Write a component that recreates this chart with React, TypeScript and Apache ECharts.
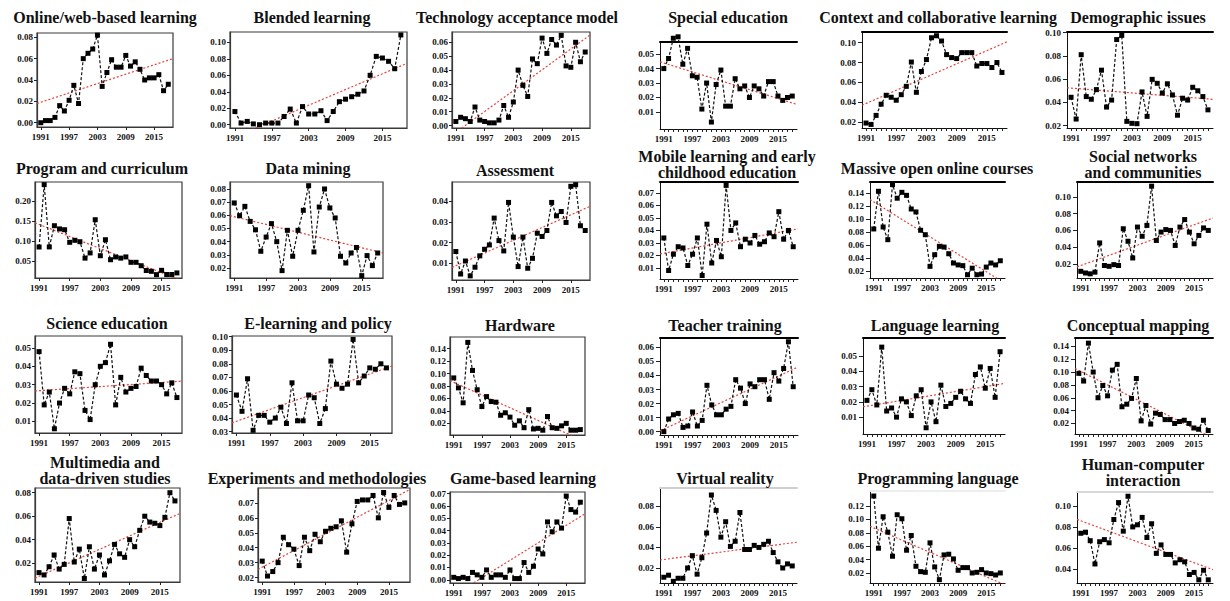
import React, { useEffect, useRef } from "react";
import * as echarts from "echarts";

const YEARS = [1991, 1992, 1993, 1994, 1995, 1996, 1997, 1998, 1999, 2000, 2001, 2002, 2003, 2004, 2005, 2006, 2007, 2008, 2009, 2010, 2011, 2012, 2013, 2014, 2015, 2016, 2017, 2018];
const X_TICKS = [1991, 1997, 2003, 2009, 2015];
const X_MIN = 1990.2;
const X_MAX = 2019.0;

const TITLES = [
  "Online/web-based learning", "Blended learning", "Technology acceptance model", "Special education", "Context and collaborative learning", "Demographic issues",
  "Program and curriculum", "Data mining", "Assessment", "Mobile learning and early\nchildhood education", "Massive open online courses", "Social networks\nand communities",
  "Science education", "E-learning and policy", "Hardware", "Teacher training", "Language learning", "Conceptual mapping",
  "Multimedia and\ndata-driven studies", "Experiments and methodologies", "Game-based learning", "Virtual reality", "Programming language", "Human-computer\ninteraction",
];

const ONLINE = [0.000, 0.002, 0.002, 0.005, 0.016, 0.011, 0.021, 0.035, 0.018, 0.060, 0.065, 0.069, 0.082, 0.034, 0.047, 0.059, 0.052, 0.052, 0.063, 0.053, 0.057, 0.050, 0.040, 0.042, 0.042, 0.045, 0.030, 0.036];
const BLENDED = [0.016, 0.002, 0.004, 0.001, 0.000, 0.002, 0.002, 0.002, 0.010, 0.019, 0.002, 0.022, 0.013, 0.013, 0.017, 0.005, 0.016, 0.028, 0.031, 0.034, 0.037, 0.041, 0.060, 0.083, 0.081, 0.077, 0.068, 0.109];
const TAM = [0.003, 0.006, 0.005, 0.003, 0.0134, 0.004, 0.003, 0.002, 0.002, 0.004, 0.0145, 0.006, 0.017, 0.040, 0.029, 0.021, 0.048, 0.0446, 0.063, 0.052, 0.062, 0.058, 0.065, 0.043, 0.042, 0.060, 0.046, 0.053];
const SPECIAL = [0.040, 0.047, 0.061, 0.062, 0.043, 0.054, 0.035, 0.034, 0.012, 0.030, 0.003, 0.029, 0.039, 0.014, 0.014, 0.033, 0.026, 0.028, 0.020, 0.028, 0.026, 0.021, 0.031, 0.031, 0.021, 0.018, 0.020, 0.021];
const CONTEXT = [0.019, 0.0176, 0.0267, 0.038, 0.047, 0.045, 0.042, 0.0476, 0.056, 0.0805, 0.050, 0.071, 0.083, 0.105, 0.107, 0.1017, 0.088, 0.085, 0.084, 0.090, 0.090, 0.090, 0.0765, 0.079, 0.079, 0.075, 0.080, 0.070];
const DEMOGRAPHIC = [0.0444, 0.0257, 0.081, 0.045, 0.0427, 0.051, 0.0677, 0.036, 0.042, 0.094, 0.0976, 0.0237, 0.022, 0.0217, 0.049, 0.028, 0.0598, 0.0564, 0.048, 0.056, 0.0464, 0.029, 0.0436, 0.042, 0.053, 0.050, 0.045, 0.0336];
const PROGRAM = [0.0858, 0.2417, 0.086, 0.139, 0.131, 0.129, 0.0975, 0.1025, 0.099, 0.058, 0.071, 0.154, 0.064, 0.104, 0.054, 0.061, 0.058, 0.061, 0.0475, 0.0475, 0.039, 0.027, 0.025, 0.0167, 0.0275, 0.017, 0.017, 0.021];
const DATAMINING = [0.0694, 0.0597, 0.0668, 0.0554, 0.049, 0.0327, 0.0435, 0.0537, 0.040, 0.018, 0.0486, 0.0289, 0.0486, 0.0638, 0.0825, 0.0322, 0.0663, 0.080, 0.0656, 0.058, 0.0289, 0.0238, 0.0314, 0.0356, 0.0142, 0.0294, 0.0218, 0.0314];
const ASSESSMENT = [0.0157, 0.0048, 0.0111, 0.0039, 0.0081, 0.0136, 0.0168, 0.0189, 0.0319, 0.021, 0.016, 0.0395, 0.0227, 0.0084, 0.0227, 0.0076, 0.0124, 0.0246, 0.023, 0.0259, 0.0395, 0.033, 0.0351, 0.0298, 0.0473, 0.0481, 0.0282, 0.0259];
const MOBILE = [0.034, 0.008, 0.021, 0.027, 0.026, 0.012, 0.021, 0.034, 0.004, 0.045, 0.014, 0.032, 0.019, 0.076, 0.040, 0.046, 0.027, 0.033, 0.030, 0.036, 0.029, 0.031, 0.038, 0.035, 0.055, 0.033, 0.040, 0.027];
const MOOC = [0.085, 0.1426, 0.088, 0.0686, 0.1528, 0.132, 0.141, 0.1364, 0.1155, 0.111, 0.083, 0.0762, 0.0278, 0.0456, 0.0584, 0.0573, 0.0471, 0.0329, 0.030, 0.0289, 0.015, 0.025, 0.015, 0.016, 0.0267, 0.0329, 0.030, 0.0364];
const SOCIAL = [0.011, 0.009, 0.008, 0.010, 0.045, 0.018, 0.017, 0.019, 0.018, 0.062, 0.047, 0.027, 0.064, 0.053, 0.066, 0.113, 0.048, 0.058, 0.061, 0.060, 0.042, 0.064, 0.073, 0.058, 0.044, 0.054, 0.063, 0.060];
const SCIENCE = [0.048, 0.019, 0.026, 0.006, 0.020, 0.028, 0.025, 0.037, 0.036, 0.016, 0.011, 0.030, 0.040, 0.042, 0.052, 0.019, 0.034, 0.026, 0.028, 0.029, 0.039, 0.035, 0.032, 0.032, 0.030, 0.025, 0.031, 0.023];
const ELEARNING = [0.057, 0.045, 0.069, 0.031, 0.042, 0.042, 0.037, 0.040, 0.048, 0.036, 0.066, 0.038, 0.038, 0.057, 0.055, 0.036, 0.047, 0.082, 0.065, 0.062, 0.065, 0.098, 0.066, 0.071, 0.077, 0.076, 0.080, 0.077];
const HARDWARE = [0.093, 0.077, 0.053, 0.150, 0.105, 0.074, 0.047, 0.063, 0.055, 0.054, 0.033, 0.037, 0.030, 0.017, 0.024, 0.013, 0.042, 0.011, 0.012, 0.009, 0.031, 0.013, 0.012, 0.016, 0.020, 0.009, 0.009, 0.010];
const TEACHER = [0.000, 0.009, 0.012, 0.013, 0.003, 0.004, 0.014, 0.004, 0.008, 0.033, 0.019, 0.012, 0.012, 0.016, 0.018, 0.037, 0.031, 0.020, 0.034, 0.032, 0.037, 0.037, 0.023, 0.042, 0.036, 0.045, 0.064, 0.032];
const LANGUAGE = [0.021, 0.028, 0.018, 0.056, 0.014, 0.016, 0.010, 0.022, 0.020, 0.011, 0.024, 0.028, 0.003, 0.020, 0.007, 0.031, 0.017, 0.019, 0.023, 0.027, 0.022, 0.019, 0.038, 0.043, 0.029, 0.042, 0.023, 0.053];
const CONCEPTUAL = [0.098, 0.086, 0.145, 0.100, 0.060, 0.079, 0.063, 0.103, 0.112, 0.046, 0.050, 0.059, 0.090, 0.024, 0.048, 0.019, 0.036, 0.034, 0.026, 0.026, 0.020, 0.023, 0.025, 0.020, 0.013, 0.011, 0.025, 0.009];
const MULTIMEDIA = [0.012, 0.010, 0.017, 0.027, 0.015, 0.019, 0.058, 0.021, 0.032, 0.007, 0.034, 0.015, 0.027, 0.010, 0.022, 0.036, 0.028, 0.025, 0.040, 0.034, 0.048, 0.060, 0.055, 0.054, 0.052, 0.059, 0.080, 0.073];
const EXPERIMENTS = [0.031, 0.021, 0.024, 0.030, 0.047, 0.042, 0.039, 0.028, 0.047, 0.038, 0.049, 0.044, 0.051, 0.053, 0.054, 0.058, 0.037, 0.056, 0.071, 0.072, 0.072, 0.075, 0.060, 0.077, 0.067, 0.075, 0.069, 0.070];
const GAME = [0.002, 0.001, 0.002, 0.001, 0.006, 0.004, 0.002, 0.008, 0.002, 0.004, 0.004, 0.002, 0.008, 0.001, 0.001, 0.014, 0.006, 0.011, 0.025, 0.021, 0.047, 0.039, 0.047, 0.042, 0.068, 0.057, 0.055, 0.063];
const VR = [0.011, 0.013, 0.007, 0.010, 0.010, 0.020, 0.032, 0.014, 0.030, 0.054, 0.091, 0.076, 0.050, 0.065, 0.041, 0.046, 0.074, 0.038, 0.038, 0.042, 0.040, 0.043, 0.046, 0.035, 0.026, 0.020, 0.024, 0.022];
const PROGLANG = [0.135, 0.057, 0.104, 0.081, 0.045, 0.107, 0.101, 0.054, 0.076, 0.030, 0.022, 0.021, 0.065, 0.029, 0.010, 0.047, 0.048, 0.041, 0.024, 0.028, 0.028, 0.020, 0.021, 0.025, 0.020, 0.019, 0.017, 0.020];
const HCI = [0.074, 0.075, 0.067, 0.045, 0.066, 0.068, 0.065, 0.087, 0.103, 0.076, 0.109, 0.080, 0.082, 0.089, 0.070, 0.083, 0.055, 0.063, 0.054, 0.054, 0.046, 0.049, 0.047, 0.035, 0.037, 0.030, 0.039, 0.030];

const SERIES = [
  ONLINE, BLENDED, TAM, SPECIAL, CONTEXT, DEMOGRAPHIC,
  PROGRAM, DATAMINING, ASSESSMENT, MOBILE, MOOC, SOCIAL,
  SCIENCE, ELEARNING, HARDWARE, TEACHER, LANGUAGE, CONCEPTUAL,
  MULTIMEDIA, EXPERIMENTS, GAME, VR, PROGLANG, HCI,
];

const T_02_08 = [0.02, 0.04, 0.06, 0.08];
const Y_TICKS = [
  [0, 0.02, 0.04, 0.06, 0.08], [0, 0.02, 0.04, 0.06, 0.08, 0.1], [0, 0.01, 0.02, 0.03, 0.04, 0.05, 0.06], [0.01, 0.02, 0.03, 0.04, 0.05, 0.06], [0.02, 0.04, 0.06, 0.08, 0.1], [0.02, 0.04, 0.06, 0.08, 0.1],
  [0.05, 0.1, 0.15, 0.2], [0.02, 0.03, 0.04, 0.05, 0.06, 0.07, 0.08], [0.01, 0.02, 0.03, 0.04], [0.01, 0.02, 0.03, 0.04, 0.05, 0.06, 0.07], [0.02, 0.04, 0.06, 0.08, 0.1, 0.12, 0.14], [0.02, 0.04, 0.06, 0.08, 0.1],
  [0.01, 0.02, 0.03, 0.04, 0.05], [0.03, 0.04, 0.05, 0.06, 0.07, 0.08, 0.09, 0.1], [0.02, 0.04, 0.06, 0.08, 0.1, 0.12, 0.14], [0, 0.01, 0.02, 0.03, 0.04, 0.05, 0.06], [0.01, 0.02, 0.03, 0.04, 0.05], [0.02, 0.04, 0.06, 0.08, 0.1, 0.12, 0.14],
  T_02_08, [0.02, 0.03, 0.04, 0.05, 0.06, 0.07], [0, 0.01, 0.02, 0.03, 0.04, 0.05, 0.06, 0.07], T_02_08, [0.02, 0.04, 0.06, 0.08, 0.1, 0.12], [0.04, 0.06, 0.08, 0.1],
];

const Y_RANGES = [
  [-0.004, 0.084], [-0.004, 0.1126], [-0.0017, 0.0674], [-0.0018, 0.0584], [0.014, 0.1108], [0.018, 0.1005],
  [0.0083, 0.2483], [0.0124, 0.0853], [0.0019, 0.0494], [0.0012, 0.0787], [0.010, 0.1568], [0.003, 0.118],
  [0.0037, 0.0565], [0.029, 0.1005], [0.0013, 0.1587], [-0.0024, 0.0667], [-0.0011, 0.062], [0.0036, 0.153],
  [0.004, 0.084], [0.017, 0.080], [-0.0026, 0.0713], [0.0054, 0.0978], [0.005, 0.1425], [0.027, 0.113],
];

// left, top, right, bottom, titleX, titleY
const LAYOUT = [
  [37, 33, 173, 127, 105, 17], [230, 32, 407, 128, 312, 17], [452, 32, 590, 128, 517, 17], [660, 42, 797, 129, 728, 17], [862, 32, 1007, 128, 938, 17], [1067, 32, 1213, 128, 1138, 17],
  [35, 182, 182, 278, 102, 168], [230, 182, 383, 278, 308, 168], [452, 182, 590, 280, 515, 170], [660, 182, 798, 279, 727, 164], [870, 182, 1005, 278, 937, 168], [1077, 182, 1213, 278, 1143, 164],
  [35, 336, 182, 433, 107, 323], [232, 336, 392, 433, 318, 323], [450, 337, 585, 435, 520, 325], [660, 338, 798, 435, 725, 325], [863, 338, 1005, 434, 935, 325], [1075, 338, 1213, 434, 1138, 325],
  [35, 488, 180, 582, 105, 470], [258, 488, 410, 582, 317, 478], [450, 492, 585, 583, 523, 478], [660, 488, 797, 583, 725, 478], [870, 491, 1005, 583, 938, 478], [1077, 492, 1213, 583, 1143, 472],
];

// "box" = full frame, otherwise open axes with a rule on top (colour given)
const FRAME = [
  "box", "box", "box", "#000", "#000", "#000",
  "box", "box", "box", "#000", "#000", "#000",
  "box", "box", "box", "#000", "#000", "#000",
  "box", "box", "box", "#cfcfcf", "#ededed", "#d8d8d8",
];

const FONT = "'Liberation Serif', 'Times New Roman', serif";

function linearFit(ys: number[]) {
  const n = ys.length;
  let sx = 0, sy = 0, sxx = 0, sxy = 0;
  for (let i = 0; i < n; i++) {
    const x = YEARS[i];
    sx += x; sy += ys[i]; sxx += x * x; sxy += x * ys[i];
  }
  const slope = (n * sxy - sx * sy) / (n * sxx - sx * sx);
  const intercept = (sy - slope * sx) / n;
  return (x: number) => intercept + slope * x;
}

function buildOption() {
  const grid: any[] = [];
  const xAxis: any[] = [];
  const yAxis: any[] = [];
  const series: any[] = [];
  const graphic: any[] = [];

  SERIES.forEach((vals, i) => {
    const [l, t, r, b, tx, ty] = LAYOUT[i];
    const box = FRAME[i] === "box";
    grid.push({
      left: l, top: t, width: r - l, height: b - t,
      show: box, borderColor: "#3a3a3a", borderWidth: 1.2, backgroundColor: "transparent",
      containLabel: false,
    });
    const xi = xAxis.length;
    xAxis.push({
      type: "value", gridIndex: i, min: X_MIN, max: X_MAX,
      splitLine: { show: false },
      axisLine: { show: true, onZero: false, lineStyle: { color: box ? "#3a3a3a" : "#111", width: box ? 1.2 : 1 } },
      axisTick: { show: true, length: 3, customValues: box ? X_TICKS : YEARS, lineStyle: { color: "#222" } },
      axisLabel: {
        customValues: X_TICKS, formatter: (v: number) => String(v), margin: 5,
        fontFamily: FONT, fontWeight: "bold", fontSize: 9, color: "#111",
      },
    });
    if (!box) {
      xAxis.push({
        type: "value", gridIndex: i, min: X_MIN, max: X_MAX, position: "top",
        splitLine: { show: false },
        axisLine: { show: true, onZero: false, lineStyle: { color: FRAME[i], width: 2 } },
        axisTick: { show: false }, axisLabel: { show: false },
      });
    }
    yAxis.push({
      type: "value", gridIndex: i, min: Y_RANGES[i][0], max: Y_RANGES[i][1],
      splitLine: { show: false },
      axisLine: { show: true, onZero: false, lineStyle: { color: box ? "#3a3a3a" : "#111", width: box ? 1.2 : 1 } },
      axisTick: { show: true, length: box ? 3 : 4, customValues: Y_TICKS[i], lineStyle: { color: "#222" } },
      axisLabel: {
        customValues: Y_TICKS[i], formatter: (v: number) => v.toFixed(2), margin: box ? 4 : 6,
        fontFamily: FONT, fontWeight: "bold", fontSize: 9, color: "#111",
      },
    });
    const f = linearFit(vals);
    series.push({
      type: "line", xAxisIndex: xi, yAxisIndex: i, clip: true, z: 2,
      symbol: "none", silent: true,
      lineStyle: { color: "#e5423a", width: 1.2, type: [2, 2] },
      data: [[X_MIN, f(X_MIN)], [X_MAX, f(X_MAX)]],
    });
    series.push({
      type: "line", xAxisIndex: xi, yAxisIndex: i, clip: false, z: 3,
      symbol: "rect", symbolSize: 5,
      itemStyle: { color: "#000" },
      lineStyle: { color: "#111", width: 1.2, type: [3, 2] },
      data: vals.map((v, k) => [YEARS[k], v]),
    });
    graphic.push({
      type: "text", x: tx, y: ty, z: 10,
      style: {
        text: TITLES[i], align: "center", verticalAlign: "middle",
        font: `bold 16px ${FONT}`, fill: "#111", lineHeight: 16,
      },
    });
  });

  return { animation: false, backgroundColor: "#fff", grid, xAxis, yAxis, series, graphic };
}

export default function App() {
  const ref = useRef<HTMLDivElement>(null);
  useEffect(() => {
    if (!ref.current) return;
    const chart = echarts.init(ref.current, undefined, { renderer: "svg" });
    chart.setOption(buildOption() as any);
    return () => chart.dispose();
  }, []);
  return (
    <div
      ref={ref}
      style={{ position: "fixed", left: 0, top: 0, width: 1230, height: 601, background: "#fff" }}
    />
  );
}
